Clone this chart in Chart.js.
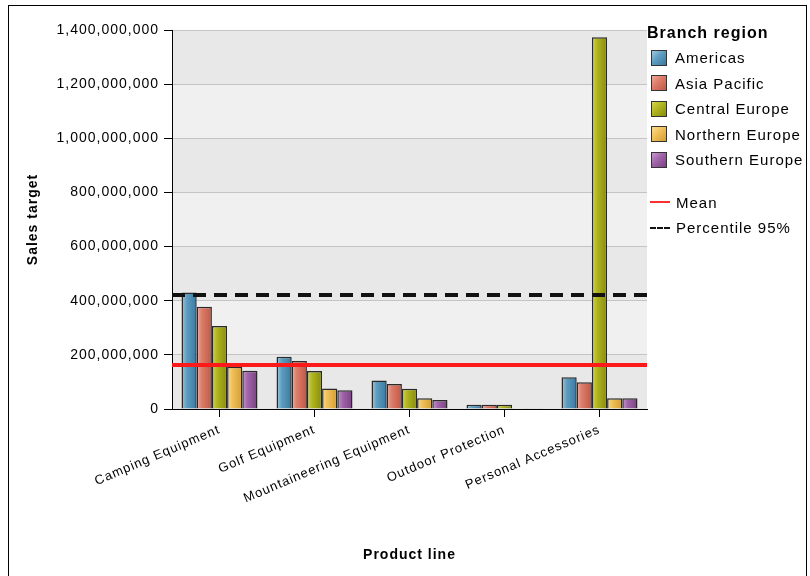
<!DOCTYPE html>
<html>
<head>
<meta charset="utf-8">
<script src="https://cdn.jsdelivr.net/npm/chart.js@4/dist/chart.umd.min.js"></script>
<style>
  body { margin: 0; background: #fff; font-family: "Liberation Sans", Arial, sans-serif; }
  #wrap { position: relative; width: 810px; height: 576px; }
  #frame { position: absolute; left: 8px; top: 5px; width: 799px; height: 575px; border: 1px solid #000; box-sizing: border-box; pointer-events: none; }
  #legend { position: absolute; left: 647px; top: 24px; font-size: 15px; letter-spacing: 1px; color: #000; }
  #legend .title { font-weight: bold; font-size: 16px; margin-bottom: 3px; }
  #legend .item { height: 25.5px; display: flex; align-items: center; white-space: nowrap; }
  #legend .sw { width: 16px; height: 16px; border: 1px solid #333; margin: 0 8px 0 4px; box-sizing: border-box; }
  #legend .ln { width: 20px; height: 0; margin: 0 6px 0 3px; }
</style>
</head>
<body>
<div id="wrap">
  <canvas id="grafico" width="810" height="576"></canvas>
  <div id="frame"></div>
  <div id="legend"></div>
</div>
<script>
// ---- dados ----
const categorias = ["Camping Equipment", "Golf Equipment", "Mountaineering Equipment", "Outdoor Protection", "Personal Accessories"];
const regioes = ["Americas", "Asia Pacific", "Central Europe", "Northern Europe", "Southern Europe"];
const americas = [430e6, 193e6, 105e6, 16e6, 117e6];
const asiaPacific = [378e6, 177e6, 92e6, 16e6, 99e6];
const centralEurope = [307e6, 140e6, 75e6, 16e6, 1373e6];
const northernEurope = [156e6, 76e6, 40e6, 3e6, 40e6];
const southernEurope = [141e6, 69e6, 33e6, 3e6, 40e6];
const media = 163e6;
const percentil95 = 421e6;
const yTicks = [0, 200e6, 400e6, 600e6, 800e6, 1000e6, 1200e6, 1400e6];

// cores: [claro, medio, escuro]
const cores = [
  ["#9fcade", "#5d9cc0", "#3b78a0"],
  ["#f0a898", "#dc7a68", "#bf5846"],
  ["#d4d84a", "#b0b420", "#878b0e"],
  ["#fadc90", "#f0c058", "#d39c34"],
  ["#c898cf", "#a064a8", "#7a4282"]
];
const series = [americas, asiaPacific, centralEurope, northernEurope, southernEurope];

// ---- espaçamento do texto ----
const espaco = {
  id: "espaco",
  beforeUpdate(chart) { chart.ctx.letterSpacing = "1px"; },
  beforeDraw(chart) { chart.ctx.letterSpacing = "1px"; }
};

// ---- fundo em faixas ----
const faixas = {
  id: "faixas",
  beforeDraw(chart) {
    const { ctx, chartArea: a, scales: { y } } = chart;
    ctx.save();
    for (let i = 0; i < yTicks.length - 1; i++) {
      const t = y.getPixelForValue(yTicks[i + 1]);
      const b = y.getPixelForValue(yTicks[i]);
      ctx.fillStyle = i % 2 === 0 ? "#e8e8e8" : "#f0f0f0";
      ctx.fillRect(a.left, t, a.right - a.left, b - t);
    }
    ctx.restore();
  }
};

// ---- gradiente nas barras ----
const gradiente = {
  id: "gradiente",
  beforeDatasetsDraw(chart) {
    const ctx = chart.ctx;
    chart.data.datasets.forEach((ds, di) => {
      const c = cores[di];
      chart.getDatasetMeta(di).data.forEach((el) => {
        const x0 = el.x - el.width / 2, x1 = el.x + el.width / 2;
        const g = ctx.createLinearGradient(x0, 0, x1, 0);
        g.addColorStop(0, c[0]);
        g.addColorStop(0.35, c[1]);
        g.addColorStop(1, c[2]);
        el.options.backgroundColor = g;
      });
    });
  }
};

// ---- linhas de referencia (media e percentil 95) ----
const referencias = {
  id: "referencias",
  afterDatasetsDraw(chart) {
    const { ctx, chartArea: a, scales: { y } } = chart;
    ctx.save();
    ctx.lineWidth = 4;
    let py = Math.round(y.getPixelForValue(media));
    ctx.strokeStyle = "#ff1a1a";
    ctx.beginPath(); ctx.moveTo(a.left, py); ctx.lineTo(a.right, py); ctx.stroke();
    py = Math.round(y.getPixelForValue(percentil95));
    ctx.strokeStyle = "#111";
    ctx.setLineDash([13, 8]);
    ctx.beginPath(); ctx.moveTo(a.left, py); ctx.lineTo(a.right, py); ctx.stroke();
    ctx.restore();
  }
};

const datasets = series.map((d, i) => ({
  label: regioes[i],
  data: d,
  // funcao: cada barra recebe seu proprio objeto de opcoes
  backgroundColor: (c) => cores[c.datasetIndex][1],
  borderColor: "#2a2a2a",
  borderWidth: 1.5,
  categoryPercentage: 0.8,
  barPercentage: 1.0
}));

const fonte = { family: "'Liberation Sans', Arial, sans-serif", size: 14 };

new Chart(document.getElementById("grafico"), {
  type: "bar",
  data: { labels: categorias, datasets },
  options: {
    responsive: false,
    animation: false,
    layout: { padding: { top: 30, right: 163, bottom: 8, left: 21 } },
    plugins: { legend: { display: false }, tooltip: { enabled: false } },
    scales: {
      x: {
        grid: { display: true, drawOnChartArea: false, offset: false, tickLength: 8, tickColor: "#000" },
        border: { color: "#000", width: 1 },
        ticks: { color: "#000", font: { ...fonte, size: 13 }, minRotation: 23, maxRotation: 23, padding: 5 },
        title: { display: true, text: "Product line", color: "#000", font: { ...fonte, weight: "bold" } },
        afterFit: (s) => { s.height = 576 - 8 - 409; }
      },
      y: {
        min: 0, max: 1400e6,
        afterBuildTicks: (s) => { s.ticks = yTicks.map((v) => ({ value: v })); },
        grid: { color: "#c4c4c4", tickColor: "#000", tickLength: 8 },
        border: { color: "#000", width: 1 },
        ticks: { color: "#000", font: fonte, padding: 5, callback: (v) => v.toLocaleString("en-US") },
        title: { display: true, text: "Sales target", color: "#000", font: { ...fonte, weight: "bold" } },
        afterFit: (s) => { s.width = 172 - 21; }
      }
    }
  },
  plugins: [espaco, faixas, gradiente, referencias]
});

// ---- legenda HTML ----
const leg = document.getElementById("legend");
let html = '<div class="title">Branch region</div>';
regioes.forEach((r, i) => {
  html += `<div class="item"><span class="sw" style="background:linear-gradient(135deg, ${cores[i][0]}, ${cores[i][1]} 45%, ${cores[i][2]})"></span>${r}</div>`;
});
html += '<div style="height:17px"></div>';
html += '<div class="item"><span class="ln" style="border-top:2px solid #ff3030"></span>Mean</div>';
html += '<div class="item"><span class="ln" style="border-top:2px dashed #111"></span>Percentile 95%</div>';
leg.innerHTML = html;
</script>
</body>
</html>
